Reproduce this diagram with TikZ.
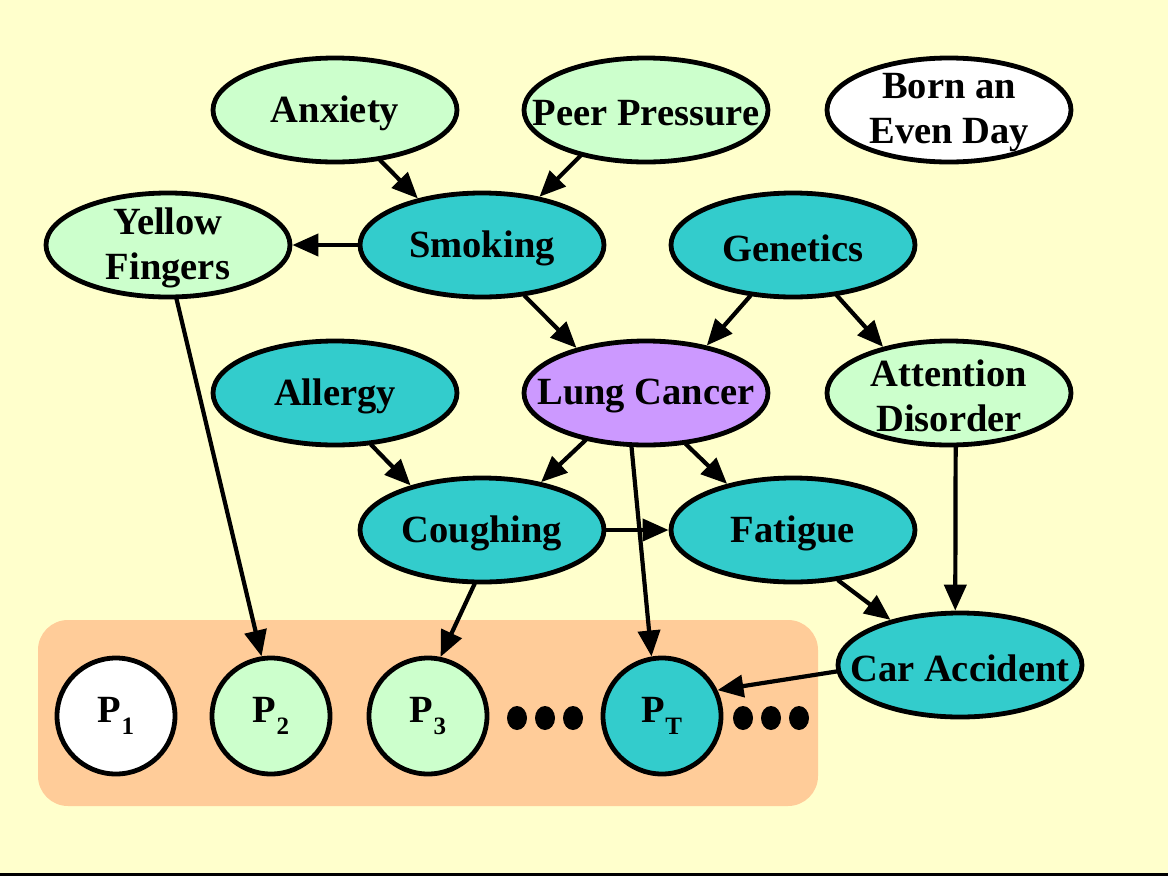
\documentclass[tikz,border=0pt]{standalone}
\usepackage{fontspec}
\setmainfont{Liberation Serif}
\usetikzlibrary{shapes.geometric,arrows.meta}
\definecolor{bgyellow}{HTML}{FFFFCC}
\definecolor{lgreen}{HTML}{CCFFCC}
\definecolor{teal2}{HTML}{33CCCC}
\definecolor{purp}{HTML}{CC99FF}
\definecolor{orng}{HTML}{FFCC99}
\tikzset{
  bn/.style={ellipse,draw=black,line width=4.8pt,minimum width=244pt,minimum height=104pt,inner sep=0pt},
  txt/.style={label={[align=center,font=\fontsize{38.5}{45}\selectfont\bfseries,inner sep=0pt,yshift=-3pt]center:#1}},
  pn/.style={ellipse,draw=black,line width=4.8pt,minimum width=118pt,minimum height=116pt,inner sep=0pt,font=\fontsize{38.5}{44}\selectfont\bfseries},
  arr/.style={line width=4.2pt,-{Triangle[length=26pt,width=22pt]},shorten <=-1pt},
  dot/.style={ellipse,fill=black,minimum width=20pt,minimum height=24pt,inner sep=0pt}
}
\newcommand{\psub}[1]{P\raisebox{-0.3em}{\fontsize{25}{25}\selectfont #1}}
\begin{document}
\begin{tikzpicture}[x=1pt,y=-1pt]
\fill[bgyellow] (0,0) rectangle (1168,876);
\fill[black] (0,873) rectangle (1168,876);
\fill[orng,rounded corners=30pt] (38,620) rectangle (818,806);

\node[bn,fill=lgreen,txt={Anxiety}] (anx) at (335,110) {};
\node[bn,fill=lgreen,txt={Peer Pressure}] (peer) at (646,110) {};
\node[bn,fill=white,txt={Born an\\Even Day}] (born) at (949,110) {};
\node[bn,fill=lgreen,txt={Yellow\\Fingers}] (yf) at (168,245) {};
\node[bn,fill=teal2,txt={Smoking}] (smk) at (482,245) {};
\node[bn,fill=teal2,txt={Genetics}] (gen) at (793,245) {};
\node[bn,fill=teal2,txt={Allergy}] (all) at (335,393) {};
\node[bn,fill=purp,txt={Lung Cancer}] (lc) at (646,393) {};
\node[bn,fill=lgreen,txt={Attention\\Disorder}] (ad) at (949,393) {};
\node[bn,fill=teal2,txt={Coughing}] (cou) at (482,530) {};
\node[bn,fill=teal2,txt={Fatigue}] (fat) at (793,530) {};
\node[bn,fill=teal2,txt={Car Accident}] (ca) at (960,665) {};

\node[pn,fill=white] (p1) at (116,716) {\psub{1}};
\node[pn,fill=lgreen] (p2) at (271,716) {\psub{2}};
\node[pn,fill=lgreen] (p3) at (428,716) {\psub{3}};
\node[pn,fill=teal2] (pt) at (662,716) {\psub{T}};

\node[dot] (d1) at (517,718) {};
\node[dot] (d2) at (545,718) {};
\node[dot] (d3) at (573,718) {};
\node[dot] (d4) at (743,718) {};
\node[dot] (d5) at (771,718) {};
\node[dot] (d6) at (799,718) {};

\draw[arr] (anx.-48) -- (smk.144);
\draw[arr] (peer.-145) -- (smk.40);
\draw[arr] (smk.180) -- (yf.0);
\draw[arr] (smk.-50) -- (lc.147);
\draw[arr] (gen.-130) -- (lc.38);
\draw[arr] (gen.-49) -- (ad.145);
\draw[arr] (yf.-81) -- (p2.99);
\draw[arr] (all.-55) -- (cou.148);
\draw[arr] (lc.-142) -- (cou.39);
\draw[arr] (lc.-52) -- (fat.145);
\draw[arr] (lc.-105) -- (pt.100);
\draw[arr] (cou.0) -- (fat.180);
\draw[arr] (ad.-83) -- (ca.95);
\draw[arr] (fat.-48) -- (ca.147);
\draw[arr] (cou.-98) -- (p3.78);
\draw[arr] (ca.183) -- (pt.25);
\end{tikzpicture}
\end{document}
